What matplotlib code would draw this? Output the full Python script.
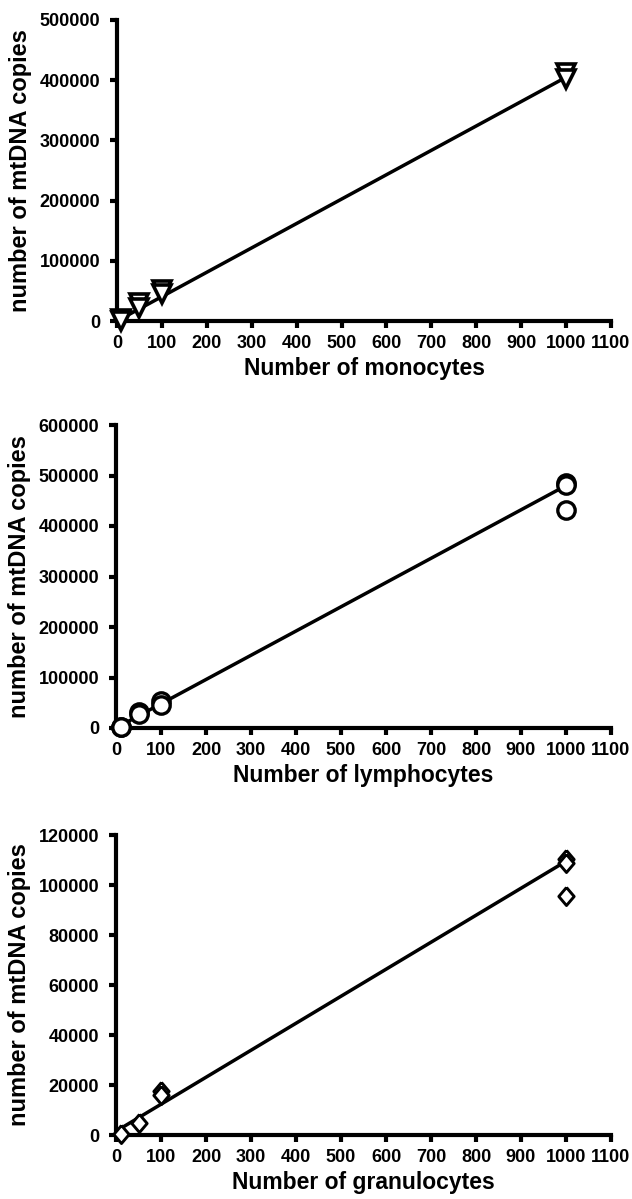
import numpy as np
import matplotlib
matplotlib.use('Agg')
import matplotlib.pyplot as plt

plt.rcParams['font.family'] = ['Liberation Sans', 'DejaVu Sans']
plt.rcParams['font.weight'] = 'bold'

# monocytes
mono_x = [10, 10, 50, 50, 100, 100, 1000, 1000]
mono_y = [2500, 500, 30000, 22000, 52000, 45000, 412000, 402000]
mono_fit = [405, 0]          # slope, intercept

# lymphocytes
lympho_x = [10, 10, 50, 50, 100, 100, 1000, 1000, 1000]
lympho_y = [2500, 1000, 31000, 27000, 53000, 46000, 485000, 481000, 431000]
lympho_fit = [480, 0]

# granulocytes
granulo_x = [10, 50, 100, 100, 1000, 1000, 1000]
granulo_y = [300, 5000, 17500, 16000, 110500, 109000, 95500]
granulo_fit = [108, 1500]

x_ticks = list(range(0, 1101, 100))
y_max = [500000, 600000, 120000]
y_step = [100000, 100000, 20000]
x_labels = ['Number of monocytes', 'Number of lymphocytes',
            'Number of granulocytes']
y_label = 'number of mtDNA copies'

# diamond a bit wider than matplotlib's thin_diamond
diamond = [(0, 1), (0.85, 0), (0, -1), (-0.85, 0), (0, 1)]
markers = [('v', 12.5, 2.6), ('o', 12.5, 2.4), (diamond, 13, 2.1)]

W, H = 632, 1199
# axes boxes in pixels: left, top, right, bottom
boxes = [(117, 20, 611, 321), (116, 425, 611, 728), (116, 835, 611, 1135)]

fig = plt.figure(figsize=(W/100, H/100), dpi=100)
data = [(mono_x, mono_y, mono_fit), (lympho_x, lympho_y, lympho_fit),
        (granulo_x, granulo_y, granulo_fit)]

for i, (xs, ys, fit) in enumerate(data):
    l, t, r, b = boxes[i]
    ax = fig.add_axes([l/W, 1 - b/H, (r - l)/W, (b - t)/H])

    xf = np.array([min(xs), max(xs)])
    ax.plot(xf, fit[0]*xf + fit[1], color='black', lw=2.5,
            solid_capstyle='butt', zorder=2)

    m, ms, mew = markers[i]
    ax.plot(xs, ys, linestyle='none', marker=m, markersize=ms,
            markeredgewidth=mew, markeredgecolor='black',
            markerfacecolor='white', clip_on=False, zorder=3)

    ax.set_xlim(0, 1100)
    ax.set_ylim(0, y_max[i])
    ax.set_xticks(x_ticks)
    ax.set_yticks(np.arange(0, y_max[i] + 1, y_step[i]))
    ax.tick_params(width=3, length=5, labelsize=13, direction='out')
    ax.tick_params(axis='x', pad=5)
    ax.tick_params(axis='y', pad=7)
    for lab in ax.get_xticklabels() + ax.get_yticklabels():
        lab.set_fontweight('bold')

    for s in ['top', 'right']:
        ax.spines[s].set_visible(False)
    for s in ['left', 'bottom']:
        ax.spines[s].set_linewidth(3)

    ax.set_xlabel(x_labels[i], fontsize=16.5, fontweight='bold', labelpad=4)
    ax.set_ylabel(y_label, fontsize=17, fontweight='bold')
    ax.yaxis.set_label_coords(-0.172, 0.5)

fig.savefig('out.png', dpi=100, facecolor='white')
